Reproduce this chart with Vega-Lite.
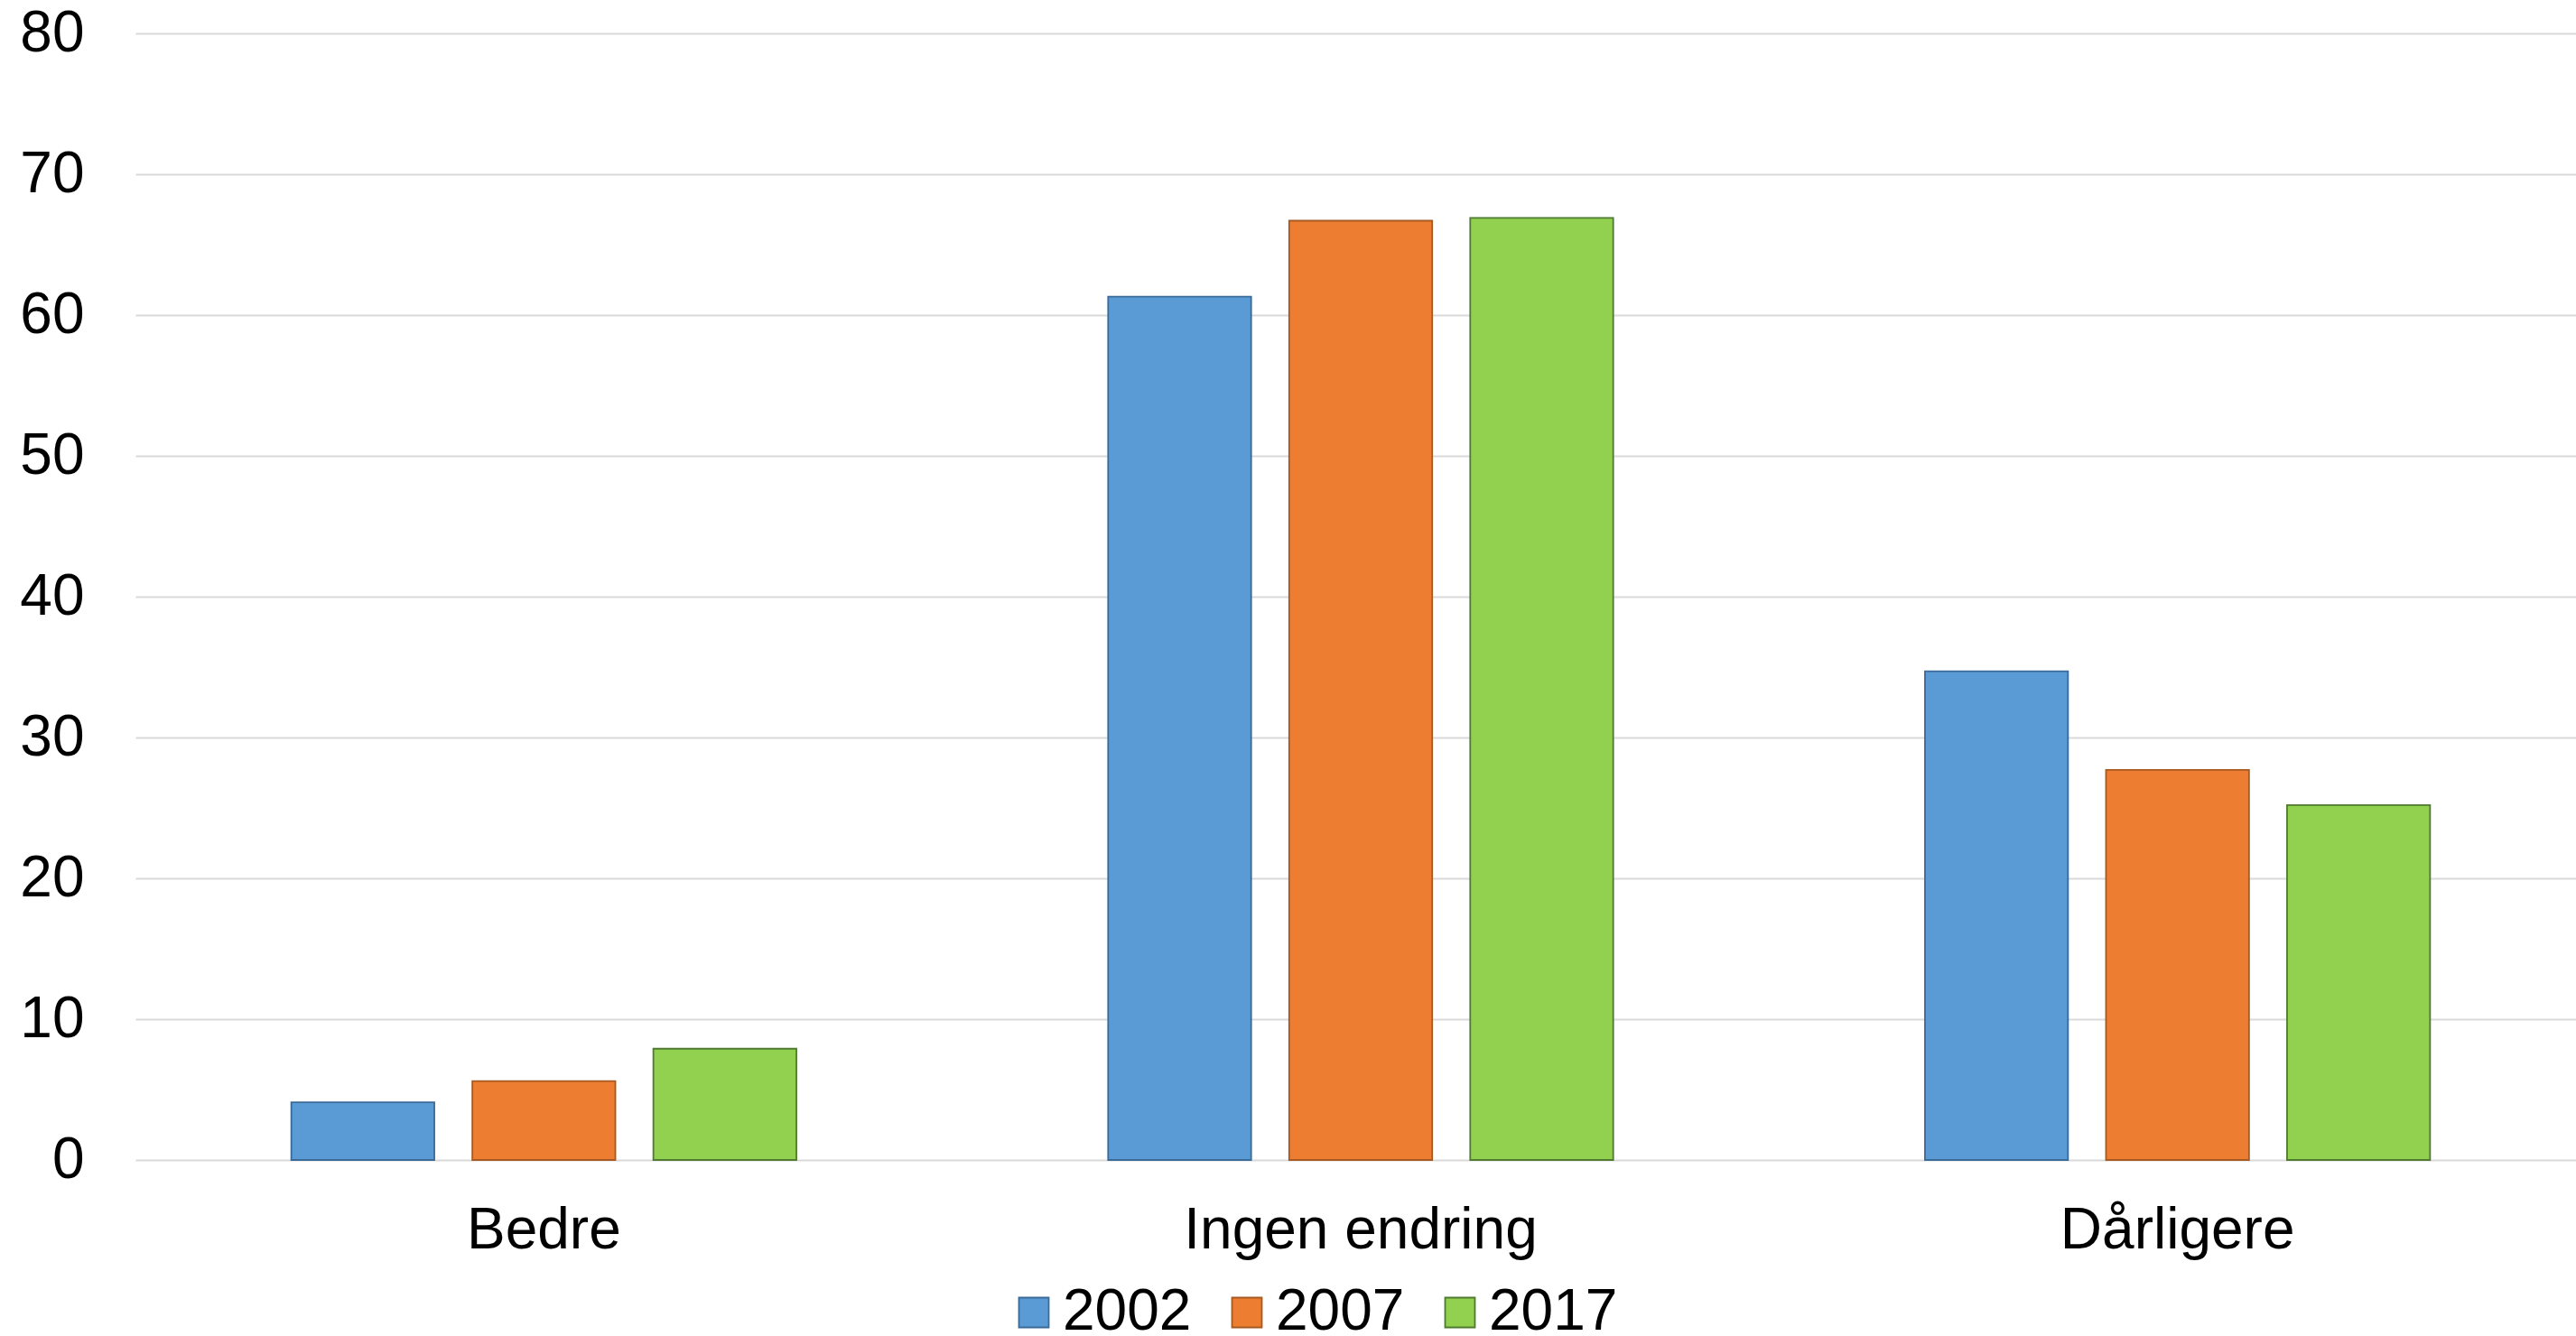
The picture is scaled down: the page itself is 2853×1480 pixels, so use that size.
{
  "$schema": "https://vega.github.io/schema/vega-lite/v6.json",
  "width": 2703,
  "height": 1248,
  "autosize": {"type": "none"},
  "padding": {"left": 150, "top": 37, "right": 0, "bottom": 195},
  "background": "white",
  "config": {
    "font": "Liberation Sans",
    "view": {"stroke": null},
    "axis": {"labelColor": "#000000", "labelFont": "Liberation Sans"},
    "legend": {"labelColor": "#000000", "labelFont": "Liberation Sans"}
  },
  "data": {
    "values": [
      {"kategori": "Bedre", "år": "2002", "verdi": 4.1},
      {"kategori": "Bedre", "år": "2007", "verdi": 5.6},
      {"kategori": "Bedre", "år": "2017", "verdi": 7.9},
      {"kategori": "Ingen endring", "år": "2002", "verdi": 61.3},
      {"kategori": "Ingen endring", "år": "2007", "verdi": 66.7},
      {"kategori": "Ingen endring", "år": "2017", "verdi": 66.9},
      {"kategori": "Dårligere", "år": "2002", "verdi": 34.7},
      {"kategori": "Dårligere", "år": "2007", "verdi": 27.7},
      {"kategori": "Dårligere", "år": "2017", "verdi": 25.2}
    ]
  },
  "mark": {"type": "bar", "strokeWidth": 1.8},
  "encoding": {
    "x": {
      "field": "kategori",
      "type": "nominal",
      "sort": ["Bedre", "Ingen endring", "Dårligere"],
      "scale": {"paddingInner": 0, "paddingOuter": 0, "range": [0, 2714]},
      "axis": {
        "title": null,
        "domain": false,
        "ticks": false,
        "labelAngle": 0,
        "labelFontSize": 64,
        "labelPadding": 46,
        "labelLimit": 1000
      }
    },
    "xOffset": {
      "field": "år",
      "type": "nominal",
      "sort": ["2002", "2007", "2017"],
      "scale": {"paddingInner": 0.21, "paddingOuter": 0.861}
    },
    "y": {
      "field": "verdi",
      "type": "quantitative",
      "scale": {"domain": [0, 80], "nice": false},
      "axis": {
        "title": null,
        "values": [0, 10, 20, 30, 40, 50, 60, 70, 80],
        "domain": false,
        "ticks": false,
        "labelFontSize": 64,
        "labelPadding": 57,
        "gridColor": "#D9D9D9",
        "gridWidth": 2
      }
    },
    "color": {
      "field": "år",
      "type": "nominal",
      "scale": {"domain": ["2002", "2007", "2017"], "range": ["#5B9BD5", "#ED7D31", "#92D050"]},
      "legend": {
        "orient": "none",
        "legendX": 963,
        "legendY": 1385,
        "direction": "horizontal",
        "title": null,
        "symbolType": "square",
        "symbolSize": 1089,
        "symbolStrokeWidth": 1.8,
        "symbolOpacity": 1,
        "labelFontSize": 64,
        "labelOffset": 0,
        "labelLimit": 400,
        "columnPadding": 29,
        "padding": 0
      }
    },
    "stroke": {
      "field": "år",
      "type": "nominal",
      "scale": {"domain": ["2002", "2007", "2017"], "range": ["#3A6A98", "#A65A22", "#4F7A30"]},
      "legend": {
        "orient": "none",
        "legendX": 963,
        "legendY": 1385,
        "direction": "horizontal",
        "title": null,
        "symbolType": "square",
        "symbolSize": 1089,
        "symbolStrokeWidth": 1.8,
        "symbolOpacity": 1,
        "labelFontSize": 64,
        "labelOffset": 0,
        "labelLimit": 400,
        "columnPadding": 29,
        "padding": 0
      }
    }
  }
}
